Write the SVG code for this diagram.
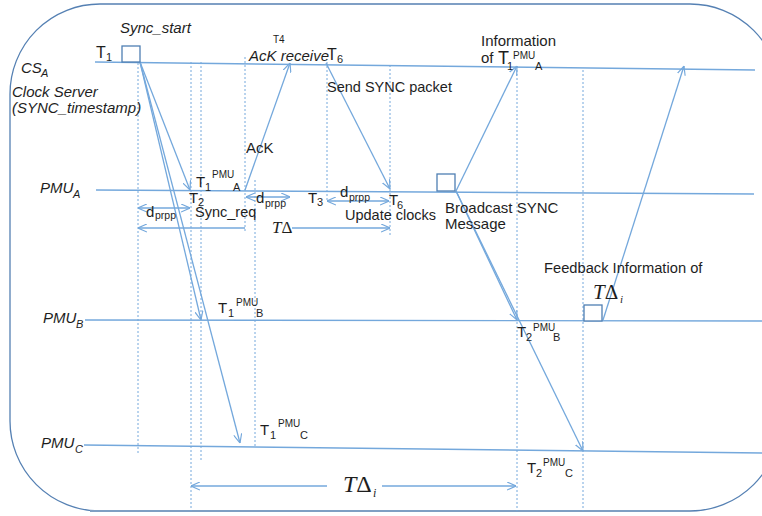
<svg xmlns="http://www.w3.org/2000/svg" width="762" height="516" viewBox="0 0 762 516">
<style>
.ln{stroke:#74a8dc;stroke-width:1.3;fill:none}
.tl{stroke:#74a8dc;stroke-width:1.4;fill:none}
.dash{stroke:#74a8dc;stroke-width:1;stroke-dasharray:2 2;fill:none}
.box{stroke:#4f7fb3;stroke-width:1.3;fill:#ffffff}
.t{font-family:"Liberation Sans",Arial,sans-serif;font-size:15px;fill:#1e1e1e}
.it{font-style:italic}
.sup{font-size:10px}
.sub{font-size:11px}
.s10{font-size:10px}
.sp{font-size:10.5px}
.s145{font-size:14.5px}
.s147{font-size:14.7px}
.s16{font-size:16px}
.s18{font-size:18px}
.m{font-family:"Liberation Serif","Times New Roman",serif;font-style:italic;fill:#1e1e1e}
</style>
<defs>
<marker id="ah" viewBox="0 0 10 10" refX="10" refY="5" markerWidth="9" markerHeight="9" markerUnits="userSpaceOnUse" orient="auto-start-reverse"><path d="M0,0.5 L10,5 L0,9.5" fill="none" stroke="#74a8dc" stroke-width="1.3"/></marker>
</defs>
<rect x="10" y="4" width="770" height="507" rx="90" fill="none" stroke="#5580b3" stroke-width="1.3"/>
<line x1="90" y1="511" x2="690" y2="511" stroke="#7f9fc3" stroke-width="2.2"/>

<g id="lifelines">
<line class="tl" x1="95" y1="62" x2="755" y2="70"/>
<line class="tl" x1="96" y1="190" x2="754" y2="194"/>
<line class="tl" x1="85" y1="320" x2="762" y2="321"/>
<line class="tl" x1="84" y1="445" x2="762" y2="453"/>
</g>

<g id="guides">
<line class="dash" x1="138" y1="63" x2="138" y2="453"/>
<line class="dash" x1="191" y1="62" x2="191" y2="511"/>
<line class="dash" x1="201" y1="62" x2="201" y2="462"/>
<line class="dash" x1="245" y1="57" x2="245" y2="232"/>
<line class="dash" x1="255" y1="180" x2="255" y2="448"/>
<line class="dash" x1="327" y1="62" x2="327" y2="200"/>
<line class="dash" x1="390" y1="65" x2="390" y2="235"/>
<line class="dash" x1="517" y1="66" x2="517" y2="511"/>
<line class="dash" x1="583" y1="70" x2="583" y2="511"/>
</g>

<g id="connectors">
<line class="ln" x1="140" y1="62" x2="190" y2="190" marker-end="url(#ah)"/>
<line class="ln" x1="140" y1="62" x2="201" y2="320" marker-end="url(#ah)"/>
<line class="ln" x1="140" y1="62" x2="240" y2="443" marker-end="url(#ah)"/>
<line class="ln" x1="245" y1="190" x2="290" y2="63" marker-end="url(#ah)"/>
<line class="ln" x1="326" y1="63" x2="390" y2="189" marker-end="url(#ah)"/>
<line class="ln" x1="456" y1="191" x2="517" y2="66" marker-end="url(#ah)"/>
<line class="ln" x1="456" y1="191" x2="517" y2="320" marker-end="url(#ah)"/>
<line class="ln" x1="456" y1="191" x2="583" y2="451" marker-end="url(#ah)"/>
<line class="ln" x1="603" y1="320" x2="684" y2="66" marker-end="url(#ah)"/>
<line class="ln" x1="138" y1="208" x2="190" y2="208" marker-start="url(#ah)" marker-end="url(#ah)"/>
<line class="ln" x1="246" y1="197" x2="290" y2="197" marker-start="url(#ah)" marker-end="url(#ah)"/>
<line class="ln" x1="327" y1="201" x2="389" y2="201" marker-start="url(#ah)" marker-end="url(#ah)"/>
<line class="ln" x1="245" y1="228" x2="138" y2="228" marker-end="url(#ah)"/>
<line class="ln" x1="292" y1="228" x2="390" y2="228" marker-end="url(#ah)"/>
<line class="ln" x1="327" y1="486" x2="191" y2="486" marker-end="url(#ah)"/>
<line class="ln" x1="382" y1="486" x2="516" y2="486" marker-end="url(#ah)"/>
</g>

<g id="csA">
<rect class="box" x="122" y="46" width="18" height="16"/>
<text class="t it" x="120" y="33">Sync_start</text>
<text class="t s16" x="96" y="58">T</text><text class="t sub" x="106" y="61">1</text>
<text class="t it" x="21" y="73">CS</text><text class="t it sub" x="41" y="77">A</text>
<text class="t it" x="12" y="97">Clock Server</text>
<text class="t it" x="12" y="113">(SYNC_timestamp)</text>
<text class="t s10" x="273" y="43">T4</text>
<text class="t it" x="249" y="61">AcK receive</text>
<text class="t s16" x="327" y="60">T</text><text class="t sub" x="337" y="63">6</text>
<text class="t s145" x="327" y="92">Send SYNC packet</text>
<text class="t" x="481" y="46">Information</text>
<text class="t" x="481" y="63">of</text>
<text class="t s18" x="498" y="64">T</text><text class="t sub" x="507" y="70">1</text>
<text class="t sup" x="513" y="59">PMU</text><text class="t sub" x="535" y="70">A</text>
</g>

<g id="pmuA">
<text class="t it" x="40" y="193">PMU</text><text class="t it sub" x="73" y="198">A</text>
<text class="t" x="246" y="153">AcK</text>
<text class="t" x="196" y="187">T</text><text class="t sub" x="205" y="191">1</text>
<text class="t sup" x="212" y="178">PMU</text><text class="t sub" x="233" y="191">A</text>
<text class="t" x="189" y="203">T</text><text class="t sub" x="198" y="206">2</text>
<text class="t s145" x="195" y="217">Sync_req</text>
<text class="t" x="146" y="217">d</text><text class="t sp" x="155" y="219">prpp</text>
<text class="t" x="256" y="203">d</text><text class="t sp" x="265" y="207">prpp</text>
<text class="t" x="340" y="197">d</text><text class="t sp" x="349" y="201">prpp</text>
<text class="t" x="308" y="203">T</text><text class="t sub" x="317" y="206">3</text>
<text class="t" x="389" y="205">T</text><text class="t sub" x="397" y="209">6</text>
<text class="t s145" x="345" y="220">Update clocks</text>
<text class="m" x="272" y="233" font-size="17">T<tspan font-style="normal">Δ</tspan></text>
<rect class="box" x="437" y="174" width="18" height="17"/>
<text class="t" x="445" y="213">Broadcast SYNC</text>
<text class="t" x="445" y="229">Message</text>
</g>

<g id="pmuB">
<text class="t it" x="43" y="323">PMU</text><text class="t it sub" x="76" y="328">B</text>
<text class="t" x="218" y="313">T</text><text class="t sub" x="228" y="317">1</text>
<text class="t sup" x="236" y="306">PMU</text><text class="t sub" x="256" y="317">B</text>
<text class="t" x="517" y="337">T</text><text class="t sub" x="526" y="341">2</text>
<text class="t sup" x="533" y="331">PMU</text><text class="t sub" x="553" y="341">B</text>
<rect class="box" x="584" y="305" width="18" height="16"/>
<text class="t s147" x="544" y="273">Feedback Information of</text>
<text class="m" x="593" y="299" font-size="21">T<tspan font-style="normal">Δ</tspan></text><text class="m" x="620" y="303" font-size="11">i</text>
</g>

<g id="pmuC">
<text class="t it" x="41" y="448">PMU</text><text class="t it sub" x="75" y="453">C</text>
<text class="t" x="260" y="435">T</text><text class="t sub" x="270" y="439">1</text>
<text class="t sup" x="278" y="427">PMU</text><text class="t sub" x="300" y="439">C</text>
<text class="t" x="527" y="473">T</text><text class="t sub" x="536" y="477">2</text>
<text class="t sup" x="543" y="466">PMU</text><text class="t sub" x="565" y="477">C</text>
<text class="m" x="343" y="492" font-size="24">T<tspan font-style="normal">Δ</tspan></text><text class="m" x="373" y="497" font-size="12">i</text>
</g>
</svg>
